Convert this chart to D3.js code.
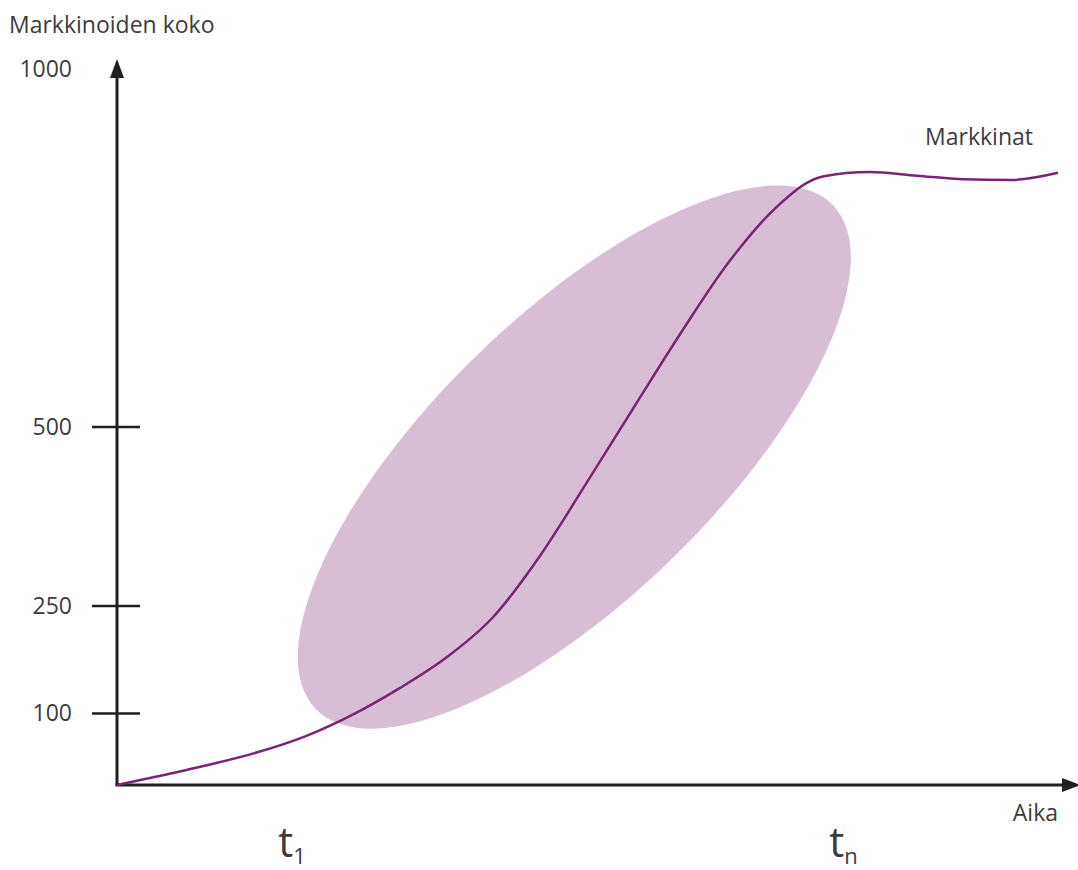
<!DOCTYPE html>
<html>
  <head>
    <meta charset="utf-8">
    <title>Markkinoiden koko</title>
    <style>
body {
  margin: 0;
  background: #fff;
}
text {
  font-family: 'Open Sans', 'Noto Sans', sans-serif;
  fill: #3d3d3d;
}
    </style>
  </head>
  <body>
    <div id="chart"></div>
    <script src="https://cdn.jsdelivr.net/npm/d3@7/dist/d3.min.js"></script>
    <script>

    // market curve (time 0..100, size 0..1000)
    var time = [0, 5, 10, 15, 20, 25, 30, 35, 40, 45, 50, 55, 60, 65, 70, 75, 80, 85, 90, 95, 100];
    var size = [0, 14, 29, 46, 68, 98, 135, 178, 235, 321, 424, 529, 633, 730, 806, 850, 856, 851, 846, 845, 855];

    var yTicks = [100, 250, 500];
    var yLabels = [100, 250, 500, 1000];
    var xMarks = [{ t: 't', sub: '1', time: 18.6 }, { t: 't', sub: 'n', time: 77.2 }];

    var zoneCenter = { time: 48.6, size: 458 };

    var width = 1078,
        height = 870;

    var svg = d3.select('#chart').append('svg')
        .attr('width', width)
        .attr('height', height);

    var x = d3.scaleLinear().domain([0, 100]).range([117, 1058]);
    var y = d3.scaleLinear().domain([0, 1000]).range([785, 69]);

    // shaded zone
    svg.append('ellipse')
        .attr('cx', 0)
        .attr('cy', 0)
        .attr('rx', 361)
        .attr('ry', 141)
        .attr('transform', 'translate(' + x(zoneCenter.time) + ',' + y(zoneCenter.size) + ') rotate(-44.3)')
        .style('fill', '#d8bed5');

    // axes
    var axisColor = '#231f20';
    svg.append('line')
        .attr('x1', x(0)).attr('y1', y(0))
        .attr('x2', x(0)).attr('y2', 75)
        .style('stroke', axisColor).style('stroke-width', 3);
    svg.append('path')
        .attr('d', 'M' + x(0) + ',59 L' + (x(0) - 7) + ',78 L' + (x(0) + 7) + ',78 Z')
        .style('fill', axisColor);
    svg.append('line')
        .attr('x1', x(0) - 1.5).attr('y1', y(0))
        .attr('x2', 1066).attr('y2', y(0))
        .style('stroke', axisColor).style('stroke-width', 3);
    svg.append('path')
        .attr('d', 'M1081,' + y(0) + ' L1062,' + (y(0) - 7) + ' L1062,' + (y(0) + 7) + ' Z')
        .style('fill', axisColor);

    svg.selectAll('.ytick')
        .data(yTicks)
        .enter().append('line')
        .attr('class', 'ytick')
        .attr('x1', x(0) - 25).attr('x2', x(0) + 23)
        .attr('y1', function(d) { return y(d); })
        .attr('y2', function(d) { return y(d); })
        .style('stroke', axisColor).style('stroke-width', 2.5);

    svg.selectAll('.ylabel')
        .data(yLabels)
        .enter().append('text')
        .attr('class', 'ylabel')
        .attr('x', 72)
        .attr('y', function(d) { return y(d); })
        .attr('dy', '0.35em')
        .attr('text-anchor', 'end')
        .style('font-size', '23px')
        .text(function(d) { return d; });

    svg.append('text')
        .attr('x', 9).attr('y', 33)
        .style('font-size', '23px')
        .text('Markkinoiden koko');

    svg.append('text')
        .attr('x', 1058).attr('y', 821)
        .attr('text-anchor', 'end')
        .style('font-size', '23px')
        .text('Aika');

    var marks = svg.selectAll('.xmark')
        .data(xMarks)
        .enter().append('text')
        .attr('class', 'xmark')
        .attr('x', function(d) { return x(d.time); })
        .attr('y', 857)
        .attr('text-anchor', 'middle');
    marks.append('tspan')
        .style('font-size', '42px')
        .text(function(d) { return d.t; });
    marks.append('tspan')
        .attr('dy', 7)
        .style('font-size', '22px')
        .text(function(d) { return d.sub; });

    // market curve
    var pts = time.map(function(t, i) { return [t, size[i]]; });
    var line = d3.line()
        .x(function(d) { return x(d[0]); })
        .y(function(d) { return y(d[1]); })
        .curve(d3.curveMonotoneX);

    svg.append('path')
        .datum(pts)
        .attr('d', line)
        .style('fill', 'none')
        .style('stroke', '#7b2473')
        .style('stroke-width', 2.5);

    svg.append('text')
        .attr('x', 1033).attr('y', 145)
        .attr('text-anchor', 'end')
        .style('font-size', '23px')
        .text('Markkinat');

    </script>
  </body>
</html>
